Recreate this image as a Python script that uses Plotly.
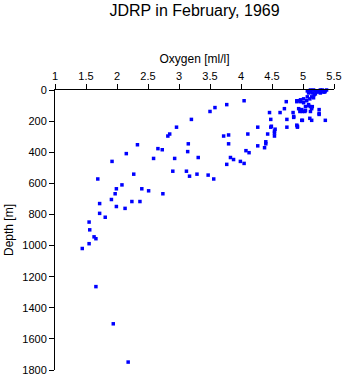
import plotly.graph_objects as go

oxygen = [
    2.18, 1.94, 1.66, 1.44, 1.55, 1.66, 1.63, 1.56, 1.55, 1.81, 1.72, 2.13, 1.99, 1.72,
    2.37, 2.24, 1.91, 2.74, 1.97, 2.51, 2.40, 1.99, 2.08, 1.69, 2.27, 1.92, 2.59, 2.15,
    2.73, 2.66, 2.33,
    3.56, 3.47, 3.29, 3.17, 3.12, 2.90, 3.77, 3.88, 3.83, 3.31, 2.93, 3.14, 3.15, 3.80,
    3.80, 3.72, 2.82, 2.85, 2.96, 3.20, 3.50, 3.58, 3.77, 4.05,
    4.05, 3.99, 4.13, 4.08, 4.38, 4.27, 4.40, 4.40, 4.43, 4.11, 4.54, 4.54, 4.54, 4.55,
    4.48, 4.49, 4.27, 4.74, 4.90, 4.91, 4.48, 4.74, 4.85, 4.98, 4.46, 4.63, 4.84, 4.70,
    4.73, 4.90, 4.96,
    5.01, 5.07, 5.12, 5.17, 5.23, 5.31, 5.36, 5.09, 5.15, 5.20, 5.26, 5.33, 5.07, 5.14,
    5.17, 5.11, 5.06, 5.01, 4.90, 4.93, 4.96, 5.04, 5.09, 5.12, 5.14, 4.93, 4.96, 4.99,
    4.95, 5.03, 5.26, 5.26, 4.85, 4.99, 5.11, 5.14, 5.36, 4.91, 5.09, 5.15, 5.12, 5.26,
    4.98, 5.04, 5.20, 5.28, 5.12, 5.22, 5.18, 5.38, 5.35, 5.28,
]
depth = [
    1749, 1503, 1264, 1019, 988, 956, 944, 899, 849, 818, 793, 761, 749, 730,
    717, 717, 704, 667, 667, 648, 635, 635, 610, 572, 541, 459, 440, 409,
    384, 377, 352,
    572, 547, 541, 554, 522, 522, 478, 447, 434, 434, 440, 396, 346, 346,
    289, 296, 296, 283, 239, 189, 138, 113, 94, 69,
    472, 459, 403, 390, 371, 359, 346, 333, 283, 283, 296, 277, 264, 252,
    239, 233, 239, 239, 226, 239, 189, 189, 176, 195, 145, 145, 145, 120,
    75, 75, 75,
    57, 6, 0, 0, 6, 0, 6, 19, 19, 25, 13, 13, 44, 44,
    50, 57, 69, 82, 69, 69, 63, 107, 94, 107, 120, 120, 132, 138,
    138, 138, 126, 157, 170, 195, 182, 195, 195, 233, 101, 107, 138, 151,
    126, 132, 6, 0, 13, 13, 30, 0, 13, 19,
]

x_ticks = [1, 1.5, 2, 2.5, 3, 3.5, 4, 4.5, 5, 5.5]
x_labels = ["1", "1.5", "2", "2.5", "3", "3.5", "4", "4.5", "5", "5.5"]
y_ticks = [0, 200, 400, 600, 800, 1000, 1200, 1400, 1600, 1800]
y_labels = [str(v) for v in y_ticks]

fig = go.Figure(
    go.Scatter(
        x=oxygen, y=depth, mode="markers",
        marker=dict(symbol="square", size=3.5, color="#0000FF", line=dict(width=0)),
        cliponaxis=False, hoverinfo="x+y",
    )
)

font = "Liberation Sans, Arial, Helvetica, sans-serif"
fig.update_layout(
    width=350, height=384,
    margin=dict(l=53, r=11, t=90, b=8),
    paper_bgcolor="white", plot_bgcolor="white",
    font=dict(family=font, color="black", size=11),
    showlegend=False,
    title=dict(
        text="JDRP in February, 1969", x=0.5, xref="paper", xanchor="center",
        y=1 - 10 / 384, yref="container", yanchor="middle",
        font=dict(size=16, family=font, color="black"),
    ),
    xaxis=dict(
        range=[1, 5.5], side="top", showline=True, linecolor="black", linewidth=1,
        ticks="outside", ticklen=5, tickwidth=1, tickcolor="black",
        tickvals=x_ticks, ticktext=x_labels, showgrid=False, zeroline=False,
        tickfont=dict(size=11),
        title=dict(text="Oxygen [ml/l]", font=dict(size=12), standoff=3),
    ),
    yaxis=dict(
        range=[1800, 0], showline=True, linecolor="black", linewidth=1,
        ticks="outside", ticklen=5, tickwidth=1, tickcolor="black",
        tickvals=y_ticks, ticktext=y_labels, showgrid=False, zeroline=False,
        tickfont=dict(size=11),
        title=dict(text="Depth [m]", font=dict(size=12), standoff=6),
    ),
)

fig.write_html("out.html")
